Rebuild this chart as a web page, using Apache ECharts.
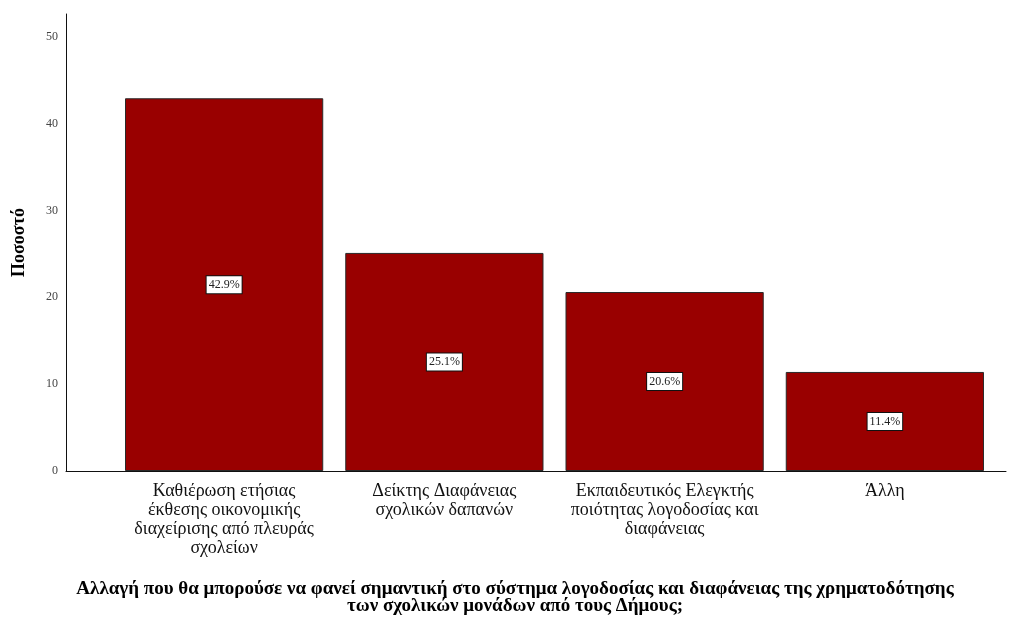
<!DOCTYPE html>
<html>
<head>
<meta charset="utf-8">
<script src="https://cdn.jsdelivr.net/npm/echarts@6/dist/echarts.min.js"></script>
<style>html,body{margin:0;padding:0;background:#fff}#c{width:1030px;height:618px}</style>
</head>
<body>
<div id="c"></div>
<script>
var categories = [
  'Καθιέρωση ετήσιας\nέκθεσης οικονομικής\nδιαχείρισης από πλευράς\nσχολείων',
  'Δείκτης Διαφάνειας\nσχολικών δαπανών',
  'Εκπαιδευτικός Ελεγκτής\nποιότητας λογοδοσίας και\nδιαφάνειας',
  'Άλλη'
];
var percentValues = [42.9, 25.1, 20.6, 11.4];
var yTickValues = [0, 10, 20, 30, 40, 50];
var yAxisTitle = 'Ποσοστό';
var xAxisTitle = 'Αλλαγή που θα μπορούσε να φανεί σημαντική στο σύστημα λογοδοσίας και διαφάνειας της χρηματοδότησης\nτων σχολικών μονάδων από τους Δήμους;';

var serif = '"Liberation Serif", "DejaVu Serif", serif';
var chart = echarts.init(document.getElementById('c'), null, {renderer: 'canvas'});
var yMax = 52.6;
chart.setOption({
  animation: false,
  backgroundColor: '#fff',
  title: {
    text: xAxisTitle,
    left: 'center',
    top: 581,
    padding: 0,
    textStyle: {fontFamily: serif, fontSize: 19, fontWeight: 'bold', color: '#000', lineHeight: 17}
  },
  grid: [
    {left: 114, right: 35, top: 14, bottom: 147, outerBoundsMode: 'none', containLabel: false},
    {left: 66, right: 24, top: 14, bottom: 147, outerBoundsMode: 'none', containLabel: false}
  ],
  xAxis: [
    {
      type: 'category', gridIndex: 0, data: categories,
      axisLine: {show: false}, axisTick: {show: false},
      axisLabel: {fontFamily: serif, fontSize: 18, color: '#111', lineHeight: 19, margin: 11, interval: 0}
    },
    {
      type: 'value', gridIndex: 1, min: 0, max: 1,
      axisLine: {show: true, lineStyle: {color: '#111', width: 1}},
      axisTick: {show: false}, axisLabel: {show: false}, splitLine: {show: false}
    }
  ],
  yAxis: [
    {
      type: 'value', gridIndex: 0, min: 0, max: yMax, show: false
    },
    {
      type: 'value', gridIndex: 1, min: 0, max: yMax, interval: 10,
      name: yAxisTitle, nameLocation: 'middle', nameGap: 38,
      nameTextStyle: {fontFamily: serif, fontSize: 18, fontWeight: 'bold', color: '#000'},
      axisLine: {show: true, lineStyle: {color: '#111', width: 1}},
      axisTick: {show: false},
      splitLine: {show: false},
      axisLabel: {
        fontFamily: serif, fontSize: 12, color: '#444', margin: 8,
        formatter: function (v) { return yTickValues.indexOf(v) >= 0 ? String(v) : ''; }
      }
    }
  ],
  series: [{
    type: 'bar',
    xAxisIndex: 0, yAxisIndex: 0,
    data: percentValues,
    barCategoryGap: '10%',
    itemStyle: {color: '#990000', borderColor: '#2a2a2a', borderWidth: 1},
    label: {
      show: true, position: 'inside',
      formatter: function (p) { return p.value.toFixed(1) + '%'; },
      fontFamily: serif, fontSize: 12, color: '#222',
      backgroundColor: '#fff', borderColor: '#111', borderWidth: 1,
      padding: [3, 2, 2, 2]
    }
  }]
});
</script>
</body>
</html>
